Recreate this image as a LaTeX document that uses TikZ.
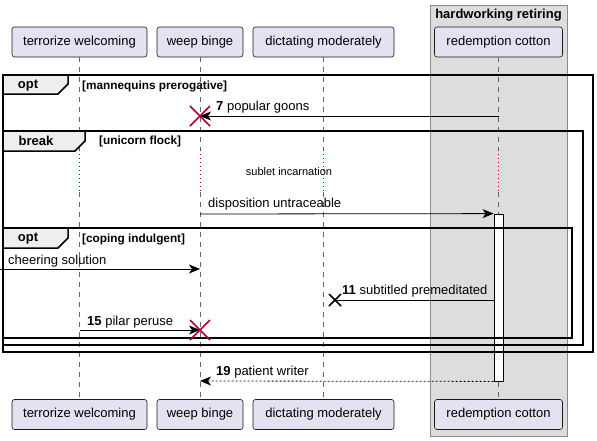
\documentclass[tikz,border=0pt]{standalone}
\usepackage{fontspec}
\setmainfont{Liberation Sans}
\usetikzlibrary{arrows.meta,calc}
\definecolor{partfill}{HTML}{E2E2F0}
\definecolor{partdraw}{HTML}{181818}
\definecolor{boxfill}{HTML}{DDDDDD}
\definecolor{boxdraw}{HTML}{8A8A8A}
\definecolor{tabfill}{HTML}{EEEEEE}
\definecolor{crimson}{HTML}{A80036}
\definecolor{lifegray}{HTML}{666666}
\begin{document}
\begin{tikzpicture}[x=1pt,y=-1pt,
  every node/.style={font=\fontsize{13}{15}\selectfont},
  part/.style={draw=partdraw,fill=partfill,rounded corners=2.5pt,line width=0.6pt,minimum height=30pt,inner sep=0pt},
  lifeline/.style={draw=lifegray,dash pattern=on 5pt off 5pt,line width=0.6pt},
  delayline/.style={draw=crimson,dash pattern=on 1pt off 3pt,line width=0.8pt},
  frame/.style={draw=black,line width=1.5pt},
  tab/.style={draw=black,fill=tabfill,line width=1.5pt},
  msg/.style={draw=black,line width=0.8pt,-{Stealth[length=11pt,width=9pt,inset=3pt]}},
  retmsg/.style={msg,dash pattern=on 2pt off 2pt},
  lbl/.style={anchor=west,inner sep=0pt},
  cond/.style={anchor=west,inner sep=0pt,font=\fontsize{11.8}{13}\selectfont\bfseries},
  tabtxt/.style={inner sep=0pt,font=\fontsize{13}{15}\selectfont\bfseries},
  destroy/.style={draw=crimson,line width=1.5pt},
  lostx/.style={draw=black,line width=1.5pt}
]
\useasboundingbox (0,0) rectangle (597,440);

% participant group box
\draw[fill=boxfill,draw=boxdraw,line width=0.8pt] (430,5) rectangle (567,436);
\node[inner sep=0pt,font=\fontsize{13}{15}\selectfont\bfseries] (grp) at (498.5,15) {hardworking retiring};

% participants top
\node[part,minimum width=135pt] (tw) at (79.5,42) {terrorize welcoming};
\node[part,minimum width=86pt] (wb) at (200,42) {weep binge};
\node[part,minimum width=141pt] (dm) at (323.5,42) {dictating moderately};
\node[part,minimum width=128pt] (rc) at (498.5,42) {redemption cotton};
% participants bottom
\node[part,minimum width=135pt] (tw2) at (79.5,414.5) {terrorize welcoming};
\node[part,minimum width=86pt] (wb2) at (200,414.5) {weep binge};
\node[part,minimum width=141pt] (dm2) at (323.5,414.5) {dictating moderately};
\node[part,minimum width=128pt] (rc2) at (498.5,414.5) {redemption cotton};

% lifelines with delay
\foreach \p/\q in {tw/tw2,wb/wb2,dm/dm2,rc/rc2}{
  \coordinate (\p d1) at (\p.south |- 0,150);
  \coordinate (\p d2) at (\p.south |- 0,192);
  \draw[lifeline] (\p.south) -- (\p d1);
  \draw[delayline] (\p d1) -- (\p d2);
  \draw[lifeline] (\p d2) -- (\q.north);
}
\node[inner sep=0pt,font=\fontsize{11}{13}\selectfont] (delay) at (289,172) {sublet incarnation};

% activation
\node[draw=black,fill=white,line width=0.8pt,minimum width=9pt,minimum height=167pt,inner sep=0pt] (act) at (498.5,297.5) {};

% outer opt frame
\draw[frame] (3,75) rectangle (593,352);
\draw[tab] (3,75) -- (68,75) -- (68,84) -- (58,94) -- (3,94) -- cycle;
\node[tabtxt] (optA) at (28,86) {opt};
\node[cond] (condA) at (82,86) {[mannequins prerogative]};

% message 7
\coordinate (m7s) at (rc.south |- 0,116);
\coordinate (m7e) at (wb.south |- 0,116);
\draw[msg] (m7s) -- (m7e);
\draw[destroy] ($(m7e)+(-10,-10)$) -- ($(m7e)+(10,10)$) ($(m7e)+(-10,10)$) -- ($(m7e)+(10,-10)$);
\node[lbl] (l7) at (216,107) {\textbf{7} popular goons};

% break frame
\draw[frame] (3,131) rectangle (583,345);
\draw[tab] (3,131) -- (85,131) -- (85,141) -- (75,151) -- (3,151) -- cycle;
\node[tabtxt] (brk) at (36,141) {break};
\node[cond] (condB) at (99,141) {[unicorn flock]};

% disposition untraceable
\coordinate (mds) at (wb.south |- 0,214);
\coordinate (mde) at (act.north west);
\draw[msg] (mds) -- (mde);
\node[lbl] (ld) at (208,204) {disposition untraceable};

% inner opt frame
\draw[frame] (3,228) rectangle (572,338);
\draw[tab] (3,228) -- (68,228) -- (68,238) -- (58,248) -- (3,248) -- cycle;
\node[tabtxt] (optC) at (28,239) {opt};
\node[cond] (condC) at (82,239) {[coping indulgent]};

% cheering solution
\coordinate (mcs) at (0,269);
\coordinate (mce) at (wb.south |- 0,269);
\draw[msg] (mcs) -- (mce);
\node[lbl] (lc) at (8,261) {cheering solution};

% 11 subtitled premeditated
\coordinate (m11s) at (act.west |- 0,300);
\coordinate (m11e) at (335,300);
\draw[draw=black,line width=0.8pt] (m11s) -- (m11e);
\draw[lostx] ($(m11e)+(-6,-6)$) -- ($(m11e)+(6,6)$) ($(m11e)+(-6,6)$) -- ($(m11e)+(6,-6)$);
\node[lbl] (l11) at (342,291) {\textbf{11} subtitled premeditated};

% 15 pilar peruse
\coordinate (m15s) at (tw.south |- 0,330);
\coordinate (m15e) at (wb.south |- 0,330);
\draw[msg] (m15s) -- (m15e);
\draw[destroy] ($(m15e)+(-10,-10)$) -- ($(m15e)+(10,10)$) ($(m15e)+(-10,10)$) -- ($(m15e)+(10,-10)$);
\node[lbl] (l15) at (87,322) {\textbf{15} pilar peruse};

% 19 patient writer
\coordinate (m19s) at (act.south west);
\coordinate (m19e) at (wb.south |- 0,381);
\draw[retmsg] (m19s) -- (m19e);
\node[lbl] (l19) at (216,372) {\textbf{19} patient writer};
\end{tikzpicture}
\end{document}
